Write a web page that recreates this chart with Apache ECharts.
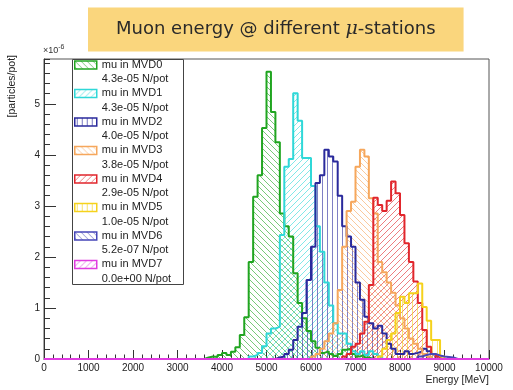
<!DOCTYPE html>
<html><head><meta charset="utf-8">
<script src="https://cdn.jsdelivr.net/npm/echarts@6/dist/echarts.min.js"></script>
<style>html,body{margin:0;padding:0;background:#fff}#c{width:513px;height:390px}</style>
</head><body><div id="c"></div>
<script>
// ---------------- data ----------------
const binWidthMeV = 100;
const energyMin = 0;
const energyMax = 10000;
const yMax = 5.88;            // axis top (units of 1e-6 particles/pot)
const yTickLabels = [0, 1, 2, 3, 4, 5];
const xTickLabels = [0, 1000, 2000, 3000, 4000, 5000, 6000, 7000, 8000, 9000, 10000];

const stationNames = ['mu in MVD0', 'mu in MVD1', 'mu in MVD2', 'mu in MVD3',
                      'mu in MVD4', 'mu in MVD5', 'mu in MVD6', 'mu in MVD7'];
const stationRates = ['4.3e-05 N/pot', '4.3e-05 N/pot', '4.0e-05 N/pot', '3.8e-05 N/pot',
                      '2.9e-05 N/pot', '1.0e-05 N/pot', '5.2e-07 N/pot', '0.0e+00 N/pot'];

// first bin low edge (MeV) and bin contents (x1e-6 particles/pot), 100 MeV bins
const mvd0Start = 3600;
const mvd0 = [0.03,0.05,0.04,0.08,0.12,0.08,0.14,0.23,0.47,0.82,1.9,3.18,3.6,4.53,5.63,4.84,4.25,
              2.85,2.6,2.4,1.68,1.1,0.8,0.55,0.35,0.22,0.12,0.15,0.1,0.06,0.1,0.18,0.2,0.1,0.05,0.08,0.03];
const mvd1Start = 4600;
const mvd1 = [0.05,0.08,0.12,0.25,0.5,0.6,0.63,2.43,3.77,3.92,5.21,4.67,3.94,3.94,3.39,2.6,2.1,
              1.5,1.05,0.7,0.5,0.5,0.3,0.15,0.1,0.15,0.08,0.15,0.1,0.05];
const mvd2Start = 5200;
const mvd2 = [0.03,0.05,0.1,0.18,0.37,0.63,0.9,1.55,2.2,3.45,3.6,4.1,3.97,3.87,3.2,2.6,2.4,2.2,
              1.5,1.16,0.83,0.7,0.6,0.65,0.5,0.3,0.2,0.1,0.1,0.15,0.1,0.12,0.15,0.2,0.15,0.1,0.05];
const mvd3Start = 6000;
const mvd3 = [0.05,0.1,0.2,0.35,0.5,0.7,1.35,2.2,2.9,3.08,3.77,4.1,3.97,3.15,2.85,1.9,1.7,1.5,
              1.3,1.05,0.8,0.6,0.4,0.3,0.2,0.1,0.05];
const mvd4Start = 6700;
const mvd4 = [0.05,0.1,0.24,0.3,0.5,0.73,1.45,3.16,3.02,2.9,3.1,3.48,3.25,2.82,2.27,1.9,1.52,1.1,
              0.57,0.24,0.1,0.05];
const mvd5Start = 7500;
const mvd5 = [0.05,0.2,0.37,0.5,0.9,1.22,1.1,1.29,1.29,1.48,1.02,0.75,0.37,0.37,0.05];
const mvd6Start = 8400;
const mvd6 = [0.05,0.08,0.1,0.1,0.07,0.05,0.04,0.03];
const mvd7Start = 0;
const mvd7 = [0];

const starts = [mvd0Start, mvd1Start, mvd2Start, mvd3Start, mvd4Start, mvd5Start, mvd6Start, mvd7Start];
const contents = [mvd0, mvd1, mvd2, mvd3, mvd4, mvd5, mvd6, mvd7];

// ---------------- style ----------------
const colors = ['#20a520', '#2fd8d8', '#2a2a9c', '#f6a75c', '#e1262c', '#f5d21c', '#4646b8', '#e03ce0'];
const hatchKinds = ['b', 'f', 'v', 'b', 'f', 'v', 'b', 'f'];

function hatch(color, kind) {
  const s = kind === 'v' ? 5 : 6;
  const c = document.createElement('canvas');
  c.width = s; c.height = s;
  const g = c.getContext('2d');
  g.strokeStyle = color; g.globalAlpha = 0.6; g.lineWidth = 1;
  g.beginPath();
  if (kind === 'v') { g.moveTo(2.5, 0); g.lineTo(2.5, s); }
  else if (kind === 'b') { for (const k of [-s, 0, s]) { g.moveTo(0, k); g.lineTo(s, s + k); } }
  else { for (const k of [0, s, 2 * s]) { g.moveTo(0, k); g.lineTo(s, k - s); } }
  g.stroke();
  return { image: c, repeat: 'repeat' };
}

function toSteps(start, values) {
  const n = (energyMax - energyMin) / binWidthMeV;
  const first = (start - energyMin) / binWidthMeV;
  const pts = [];
  for (let k = 0; k < n; k++) {
    const i = k - first;
    pts.push([energyMin + k * binWidthMeV, (i >= 0 && i < values.length) ? values[i] : 0]);
  }
  pts.push([energyMax, 0]);
  return pts;
}

const patterns = colors.map((c, i) => hatch(c, hatchKinds[i]));
const rateByName = {};
stationNames.forEach((n, i) => rateByName[n] = stationRates[i]);

const series = stationNames.map((name, i) => ({
  name: name,
  type: 'line',
  step: 'end',
  showSymbol: false,
  symbol: 'none',
  data: toSteps(starts[i], contents[i]),
  lineStyle: { color: colors[i], width: 2 },
  itemStyle: { color: colors[i] },
  areaStyle: { color: patterns[i], opacity: 1 },
  animation: false,
  z: 2
}));

const lh = 14.25;
const fontSans = 'Liberation Sans, Arial, sans-serif';
const chart = echarts.init(document.getElementById('c'), null, { renderer: 'canvas' });
chart.setOption({
  animation: false,
  backgroundColor: '#ffffff',
  title: {
    text: '{n|Muon energy @ different }{m|\u03bc}{n|-stations}',
    left: 88, top: 6,
    padding: [12, 28, 13, 28],
    backgroundColor: '#fad67d',
    textStyle: {
      fontWeight: 'normal',
      rich: {
        n: { fontFamily: 'DejaVu Sans, sans-serif', fontWeight: 'normal', fontSize: 18, color: '#2a2a2a', lineHeight: 22 },
        m: { fontFamily: 'DejaVu Serif, serif', fontStyle: 'italic', fontWeight: 'normal', fontSize: 19, color: '#2a2a2a', lineHeight: 22 }
      }
    }
  },
  grid: { left: 44, right: 24, top: 59, bottom: 31, show: true, borderColor: '#555', borderWidth: 1 },
  xAxis: {
    type: 'value', min: energyMin, max: energyMax, interval: 1000,
    axisLine: { show: true, lineStyle: { color: '#333' } },
    axisTick: { inside: true, length: 9, lineStyle: { color: '#333' } },
    minorTick: { show: true, splitNumber: 5, length: 4.5, lineStyle: { color: '#333' } },
    splitLine: { show: false },
    axisLabel: {
      margin: 4, fontSize: 10, color: '#222', fontFamily: fontSans,
      formatter: v => xTickLabels.indexOf(v) >= 0 ? String(v) : ''
    }
  },
  yAxis: [{
    type: 'value', min: 0, max: yMax, interval: 1,
    axisLine: { show: true, lineStyle: { color: '#333' } },
    axisTick: { inside: true, length: 12, lineStyle: { color: '#333' } },
    splitLine: { show: false },
    axisLabel: {
      margin: 4, fontSize: 10, color: '#222', fontFamily: fontSans,
      showMaxLabel: false,
      formatter: v => yTickLabels.indexOf(v) >= 0 ? String(v) : ''
    }
  }, {
    type: 'value', min: 0, max: yMax, interval: 0.2, position: 'left', offset: 0,
    axisLine: { show: false },
    axisTick: { show: true, inside: true, length: 6, lineStyle: { color: '#333' } },
    splitLine: { show: false },
    axisLabel: { show: false }
  }],
  legend: {
    orient: 'vertical', left: 74, top: 43.5,
    padding: 0, itemWidth: 22, itemHeight: 8, itemGap: -lh,
    selectedMode: false, icon: 'rect', z: 6,
    data: stationNames.map((n, i) => ({
      name: n,
      itemStyle: { color: patterns[i], borderColor: colors[i], borderWidth: 1.5 }
    })),
    formatter: n => ' \n' + n + '\n' + rateByName[n],
    textStyle: {
      fontFamily: fontSans, fontSize: 11, color: '#222', lineHeight: lh
    }
  },
  graphic: [
    { type: 'rect', z: 5, shape: { x: 72.5, y: 59.5, width: 111, height: 225 },
      style: { fill: '#fff', stroke: '#444', lineWidth: 1 } },
    { type: 'text', z: 5, x: 43, y: 51,
      style: { text: '{a|\u00d710}{b|-6}', verticalAlign: 'middle',
        rich: { a: { fontSize: 9, fontFamily: 'Liberation Sans, Arial', fill: '#333', color: '#333' },
                b: { fontSize: 7, fontFamily: 'Liberation Sans, Arial', fill: '#333', color: '#333', padding: [0, 0, 7, 0] } } } },
    { type: 'text', z: 5, x: 12, y: 55, rotation: Math.PI / 2,
      style: { text: '[particles/pot]', align: 'right', verticalAlign: 'middle',
        fontSize: 10.5, fontFamily: 'Liberation Sans, Arial', fill: '#222' } },
    { type: 'text', z: 5, x: 489, y: 380,
      style: { text: 'Energy [MeV]', align: 'right', verticalAlign: 'middle',
        fontSize: 10.5, fontFamily: 'Liberation Sans, Arial', fill: '#222' } }
  ],
  series: series
});
</script></body></html>
